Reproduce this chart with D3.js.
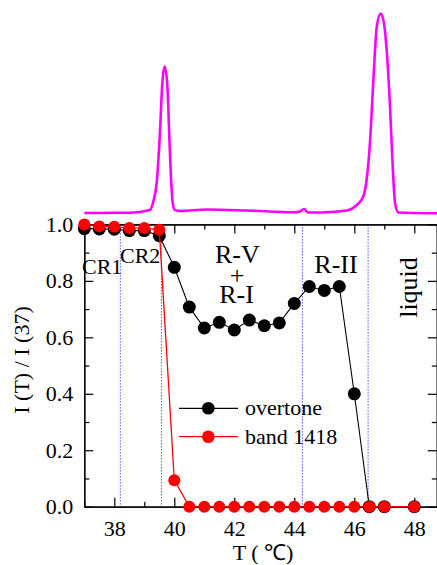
<!DOCTYPE html>
<html>
<head>
<meta charset="utf-8">
<script src="https://cdn.jsdelivr.net/npm/d3@7"></script>
<style>
  html, body { margin: 0; padding: 0; background: #fff; }
  svg { display: block; font-family: "Liberation Serif", "Times New Roman", serif; }
</style>
</head>
<body>
<script>
// Chart data
const temps = [37, 37.5, 38, 38.5, 39, 39.5, 40, 40.5, 41, 41.5, 42, 42.5, 43, 43.5, 44, 44.5, 45, 45.5, 46, 46.5, 47, 48];
const overtone = [0.985, 0.984, 0.983, 0.978, 0.978, 0.96, 0.848, 0.707, 0.633, 0.653, 0.626, 0.661, 0.641, 0.651, 0.72, 0.78, 0.766, 0.78, 0.40, 0.0, 0.0, 0.0];
const band1418 = [1.0, 0.993, 0.992, 0.987, 0.987, 0.981, 0.094, 0.0, 0.0, 0.0, 0.0, 0.0, 0.0, 0.0, 0.0, 0.0, 0.0, 0.0, 0.0, 0.0, 0.0, 0.0];

// DSC trace above the chart (arbitrary units)
const dscT = [37.0, 38.52, 39.19, 39.30, 39.41, 39.52, 39.60, 39.68, 39.77, 39.83, 39.90, 39.95, 40.02, 40.19, 41.08, 42.41, 43.97, 44.19, 44.32, 44.46, 44.86, 45.75, 46.08, 46.30, 46.41, 46.52, 46.63, 46.75, 46.88, 46.99, 47.08, 47.19, 47.28, 47.36, 47.47, 48.76];
const dscV = [0.5, 0.8, 3.5, 12, 30, 80, 130, 147, 127, 80, 30, 10, 3.5, 2.5, 4, 3, 1.2, 2, 4.5, 1, 1, 3, 8.5, 17, 33.5, 70, 130, 187, 200, 190, 163, 107, 47, 10, 1, 0.2];

const xTicks = [38, 40, 42, 44, 46, 48];
const xMinor = [37, 39, 41, 43, 45, 47];
const yTicks = [0, 0.2, 0.4, 0.6, 0.8, 1.0];
const yMinor = [0.1, 0.3, 0.5, 0.7, 0.9];
const phaseBounds = [38.2, 39.57, 44.27, 46.46];

// Setup
const w = 437;
const h = 565;

const svg = d3.select("body")
    .append("svg")
    .attr("width", w)
    .attr("height", h)

svg.append("rect").attr("width", w).attr("height", h).attr("fill", "#fff")

const x = d3.scaleLinear().domain([37, 48.75]).range([84.3, 436.8])
const y = d3.scaleLinear().domain([0, 1]).range([506.7, 224.4])
const yDsc = d3.scaleLinear().domain([0, 200]).range([213.5, 13.5])

// DSC curve
svg.append("path")
    .datum(dscT.map((t, i) => [t, dscV[i]]))
    .attr("fill", "none")
    .attr("stroke", "#ff00ff")
    .attr("stroke-width", 2.6)
    .attr("d", d3.line().x(d => x(d[0])).y(d => yDsc(d[1])).curve(d3.curveMonotoneX))

// phase boundaries
svg.selectAll(".bound")
    .data(phaseBounds)
    .join("line")
    .attr("x1", d => x(d)).attr("x2", d => x(d))
    .attr("y1", y(1)).attr("y2", y(0))
    .attr("stroke", "#0000ff")
    .attr("stroke-width", 1)
    .attr("stroke-dasharray", "1,2")

// axes (ticks pointing inward)
function styleAxis(g) {
    g.selectAll("path").attr("stroke", "#000").attr("stroke-width", 1.2)
    g.selectAll("line").attr("stroke", "#000").attr("stroke-width", 1.2)
    g.selectAll("text").attr("fill", "#000").style("font-size", "22px")
        .style("font-family", "'Liberation Serif', 'Times New Roman', serif")
}

svg.append("g")
    .attr("transform", `translate(0, ${y(0)})`)
    .call(d3.axisBottom(x).tickValues(xTicks).tickSizeInner(-9).tickSizeOuter(0).tickPadding(14).tickFormat(d3.format("d")))
    .call(styleAxis)
svg.append("g")
    .attr("transform", `translate(0, ${y(0)})`)
    .call(d3.axisBottom(x).tickValues(xMinor).tickSizeInner(-5).tickSizeOuter(0).tickFormat(""))
    .call(styleAxis)

svg.append("g")
    .attr("transform", `translate(0, ${y(1)})`)
    .call(d3.axisTop(x).tickValues(xTicks).tickSizeInner(-9).tickSizeOuter(0).tickFormat(""))
    .call(styleAxis)
svg.append("g")
    .attr("transform", `translate(0, ${y(1)})`)
    .call(d3.axisTop(x).tickValues(xMinor).tickSizeInner(-5).tickSizeOuter(0).tickFormat(""))
    .call(styleAxis)

svg.append("g")
    .attr("transform", `translate(${x(37)}, 0)`)
    .call(d3.axisLeft(y).tickValues(yTicks).tickSizeInner(-9).tickSizeOuter(0).tickPadding(11).tickFormat(d3.format(".1f")))
    .call(styleAxis)
svg.append("g")
    .attr("transform", `translate(${x(37)}, 0)`)
    .call(d3.axisLeft(y).tickValues(yMinor).tickSizeInner(-5).tickSizeOuter(0).tickFormat(""))
    .call(styleAxis)

svg.append("g")
    .attr("transform", `translate(${x(48.75)}, 0)`)
    .call(d3.axisRight(y).tickValues(yTicks).tickSizeInner(-9).tickSizeOuter(0).tickFormat(""))
    .call(styleAxis)
svg.append("g")
    .attr("transform", `translate(${x(48.75)}, 0)`)
    .call(d3.axisRight(y).tickValues(yMinor).tickSizeInner(-5).tickSizeOuter(0).tickFormat(""))
    .call(styleAxis)

// series
const line = d3.line().x(d => x(d[0])).y(d => y(d[1]))
const blackPts = temps.map((t, i) => [t, overtone[i]])
const redPts = temps.map((t, i) => [t, band1418[i]])

svg.append("path").datum(blackPts)
    .attr("fill", "none").attr("stroke", "#000").attr("stroke-width", 1.1).attr("d", line)
svg.selectAll(".dotB").data(blackPts).join("circle")
    .attr("cx", d => x(d[0])).attr("cy", d => y(d[1])).attr("r", 6.5).attr("fill", "#000")

svg.append("path").datum(redPts)
    .attr("fill", "none").attr("stroke", "#ff0000").attr("stroke-width", 1.3).attr("d", line)
svg.selectAll(".dotR").data(redPts).join("circle")
    .attr("cx", d => x(d[0])).attr("cy", d => y(d[1])).attr("r", 6).attr("fill", "#ff0000")

// legend
const legend = [["overtone", "#000", 408.3], ["band 1418", "#ff0000", 436.7]]
legend.forEach(([name, col, ly]) => {
    svg.append("line").attr("x1", 179).attr("x2", 238).attr("y1", ly).attr("y2", ly)
        .attr("stroke", col).attr("stroke-width", 1.2)
    svg.append("circle").attr("cx", 208.3).attr("cy", ly).attr("r", 6.3).attr("fill", col)
    svg.append("text").attr("x", 245).attr("y", ly + 7).style("font-size", "22px").text(name)
})

// annotations
const notes = [
    ["CR1", 82, 274, "start", 22],
    ["CR2", 120, 262.7, "start", 22],
    ["R-V", 237.3, 263.3, "middle", 26],
    ["+", 237, 284, "middle", 26],
    ["R-I", 236.5, 303.3, "middle", 26],
    ["R-II", 336, 273.3, "middle", 26],
]
notes.forEach(([t, tx, ty, anchor, fs]) => {
    svg.append("text").attr("x", tx).attr("y", ty).attr("text-anchor", anchor)
        .style("font-size", fs + "px").text(t)
})
svg.append("text")
    .attr("transform", "translate(417, 287.5) rotate(-90)")
    .attr("text-anchor", "middle")
    .style("font-size", "26px")
    .text("liquid")

// axis titles
svg.append("text")
    .attr("transform", "translate(29, 360) rotate(-90)")
    .attr("text-anchor", "middle")
    .style("font-size", "22px")
    .text("I (T) / I (37)")
svg.append("text")
    .attr("x", 263).attr("y", 560)
    .attr("text-anchor", "middle")
    .style("font-size", "22px")
    .text("T ( \u2103)")
</script>
</body>
</html>
